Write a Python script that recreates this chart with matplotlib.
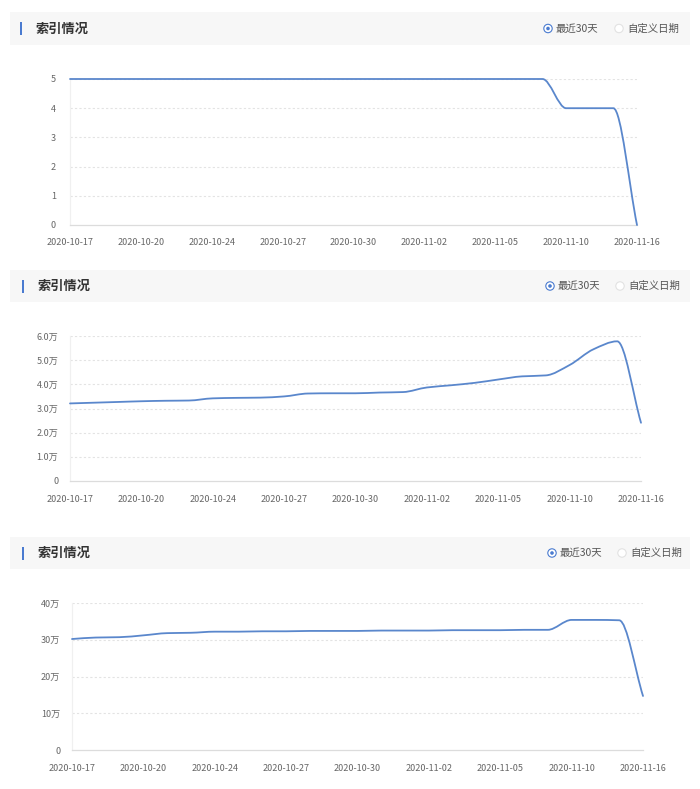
import numpy as np
import matplotlib
matplotlib.use("Agg")
import matplotlib.pyplot as plt
from matplotlib.path import Path
from matplotlib.patches import PathPatch, Rectangle, Circle

plt.rcParams['font.family'] = ['Noto Sans CJK SC', 'DejaVu Sans']

# ---------------- data ----------------
dates = ["2020-10-17", "2020-10-18", "2020-10-19", "2020-10-20", "2020-10-21",
         "2020-10-22", "2020-10-24", "2020-10-25", "2020-10-26", "2020-10-27",
         "2020-10-28", "2020-10-29", "2020-10-30", "2020-10-31", "2020-11-01",
         "2020-11-02", "2020-11-03", "2020-11-04", "2020-11-05", "2020-11-07",
         "2020-11-08", "2020-11-10", "2020-11-12", "2020-11-14", "2020-11-16"]

series1 = [5, 5, 5, 5, 5, 5, 5, 5, 5, 5, 5, 5, 5, 5, 5, 5, 5, 5, 5, 5, 5,
           4, 4, 4, 0]
# values in 万 (x10,000)
series2 = [3.21, 3.24, 3.27, 3.30, 3.32, 3.33, 3.42, 3.44, 3.45, 3.50,
           3.62, 3.63, 3.63, 3.66, 3.68, 3.87, 3.96, 4.06, 4.20, 4.33,
           4.37, 4.80, 5.45, 5.78, 2.41]
series3 = [30.2, 30.6, 30.7, 31.2, 31.8, 31.9, 32.2, 32.2, 32.3, 32.3,
           32.4, 32.4, 32.4, 32.5, 32.5, 32.5, 32.6, 32.6, 32.6, 32.7,
           32.7, 35.4, 35.4, 35.3, 14.7]

yticks1 = [0, 1, 2, 3, 4, 5]
ylabels1 = ["0", "1", "2", "3", "4", "5"]
yticks2 = [0, 1, 2, 3, 4, 5, 6]
ylabels2 = ["0", "1.0万", "2.0万", "3.0万", "4.0万", "5.0万", "6.0万"]
yticks3 = [0, 10, 20, 30, 40]
ylabels3 = ["0", "10万", "20万", "30万", "40万"]

title_text = "索引情况"
radio_on = "最近30天"
radio_off = "自定义日期"

# ---------------- style ----------------
W, H = 700, 789
LINE = '#5a87cc'
BLUE = '#4a7bd0'
GRID = '#e3e3e3'
TXT = '#666666'

fig = plt.figure(figsize=(W / 100, H / 100), dpi=100)
fig.patch.set_facecolor('white')

# overlay axes in pixel coordinates (top-left origin)
ov = fig.add_axes([0, 0, 1, 1], zorder=0)
ov.set_xlim(0, W)
ov.set_ylim(H, 0)
ov.axis('off')


def rect(x0, y0, x1, y1):
    return [x0 / W, 1 - y1 / H, (x1 - x0) / W, (y1 - y0) / H]


def header(y0, y1, barx, rx1, rx2):
    yc = (y0 + y1) / 2
    ov.add_patch(Rectangle((10, y0), 680, y1 - y0, facecolor='#f7f7f7',
                           edgecolor='none'))
    ov.add_patch(Rectangle((barx - 1, yc - 6.5), 2.2, 13, facecolor=BLUE,
                           edgecolor='none'))
    ov.text(barx + 14, yc, title_text, fontsize=9.5, fontweight='bold',
            color='#333333', va='center', ha='left')
    ov.add_patch(Circle((rx1, yc), 4.2, facecolor='white', edgecolor=BLUE,
                        lw=0.8))
    ov.add_patch(Circle((rx1, yc), 1.8, facecolor=BLUE, edgecolor='none'))
    ov.text(rx1 + 8, yc, radio_on, fontsize=7.5, color='#555555',
            va='center', ha='left')
    ov.add_patch(Circle((rx2, yc), 4.2, facecolor='white', edgecolor='#e2e2e2',
                        lw=0.8))
    ov.text(rx2 + 8, yc, radio_off, fontsize=7.5, color='#555555',
            va='center', ha='left')


def smooth_path(x, y):
    x = np.asarray(x, float)
    y = np.asarray(y, float)
    n = len(x)
    d = np.diff(y) / np.diff(x)
    m = np.zeros(n)
    m[0] = d[0]
    m[-1] = d[-1]
    for i in range(1, n - 1):
        if d[i - 1] * d[i] <= 0:
            m[i] = 0.0
        else:
            m[i] = 2.0 / (1.0 / d[i - 1] + 1.0 / d[i])
    verts = [(x[0], y[0])]
    codes = [Path.MOVETO]
    for i in range(n - 1):
        h = x[i + 1] - x[i]
        verts += [(x[i] + h / 3, y[i] + m[i] * h / 3),
                  (x[i + 1] - h / 3, y[i + 1] - m[i + 1] * h / 3),
                  (x[i + 1], y[i + 1])]
        codes += [Path.CURVE4] * 3
    return Path(verts, codes)


def panel(box, values, yt, yl, ytop, xpad, ypad):
    ax = fig.add_axes(rect(*box), zorder=2)
    ax.set_facecolor('none')
    xs = np.arange(len(values))
    ax.set_xlim(0, len(values) - 1)
    ax.set_ylim(0, ytop)
    ax.add_patch(PathPatch(smooth_path(xs, values), fill=False,
                           edgecolor=LINE, lw=1.3, clip_on=False, zorder=3,
                           capstyle='round', joinstyle='round'))
    for v in yt[1:]:
        ax.axhline(v, color=GRID, lw=0.8, ls=(0, (2, 2)), zorder=1)
    ax.set_yticks(yt)
    ax.set_yticklabels(yl)
    ticks = xs[::3]
    ax.set_xticks(ticks)
    ax.set_xticklabels([dates[i] for i in ticks])
    ax.tick_params(axis='both', length=0, labelsize=6.5, colors=TXT)
    ax.tick_params(axis='x', pad=xpad)
    ax.tick_params(axis='y', pad=ypad)
    for s in ['top', 'right']:
        ax.spines[s].set_visible(False)
    ax.spines['bottom'].set_color('#dcdcdc')
    ax.spines['bottom'].set_linewidth(0.9)
    ax.spines['left'].set_color('#f0f0f0')
    ax.spines['left'].set_linewidth(0.9)
    return ax


header(12, 45, 21, 548, 619)
panel((70, 79, 637, 225), series1, yticks1, ylabels1, 5, 9.5, 10)

header(270, 302, 23, 550, 620)
panel((70, 336, 641, 481), series2, yticks2, ylabels2, 6, 10, 8.5)

header(537, 569, 23, 552, 622)
panel((72, 603, 643, 750), series3, yticks3, ylabels3, 40, 10, 8.5)

fig.savefig('out.png', dpi=100)
